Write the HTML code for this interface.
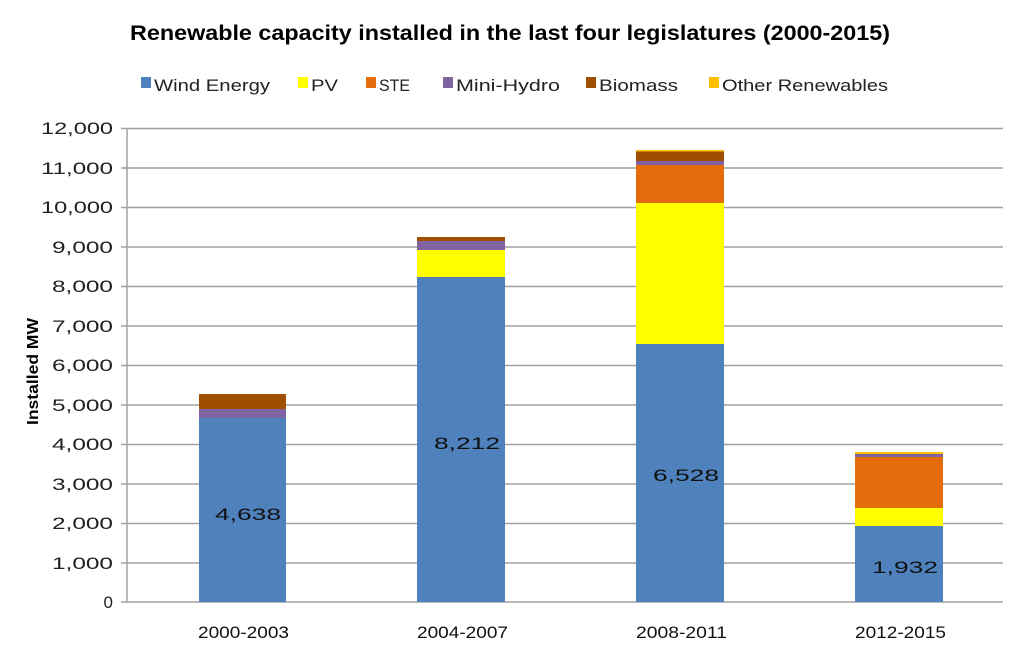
<!DOCTYPE html>
<html><head><meta charset="utf-8"><style>body{margin:0;background:#fff}svg{display:block}</style></head><body>
<svg width="1024" height="647" xmlns="http://www.w3.org/2000/svg" font-family="Liberation Sans, sans-serif">
<rect width="1024" height="647" fill="#fff"/>
<text x="130" y="40" textLength="760" lengthAdjust="spacingAndGlyphs" font-size="21" font-weight="bold" fill="#000">Renewable capacity installed in the last four legislatures (2000-2015)</text>
<g font-size="17" fill="#222">
<rect x="141" y="77" width="10" height="11" fill="#4f81bd"/><text x="154" y="91" textLength="116" lengthAdjust="spacingAndGlyphs">Wind Energy</text>
<rect x="298" y="77" width="10" height="11" fill="#ffff00"/><text x="311" y="91" textLength="27" lengthAdjust="spacingAndGlyphs">PV</text>
<rect x="366" y="77" width="10" height="11" fill="#e46c0a"/><text x="379" y="91" textLength="31" lengthAdjust="spacingAndGlyphs">STE</text>
<rect x="443" y="77" width="10" height="11" fill="#8064a2"/><text x="456" y="91" textLength="104" lengthAdjust="spacingAndGlyphs">Mini-Hydro</text>
<rect x="586" y="77" width="10" height="11" fill="#a04f00"/><text x="599" y="91" textLength="79" lengthAdjust="spacingAndGlyphs">Biomass</text>
<rect x="709" y="77" width="10" height="11" fill="#ffc000"/><text x="722" y="91" textLength="166" lengthAdjust="spacingAndGlyphs">Other Renewables</text>
</g>
<g stroke="#a0a0a0" stroke-width="1.5">
<line x1="121" y1="128.5" x2="1003" y2="128.5"/>
<line x1="121" y1="168" x2="1003" y2="168"/>
<line x1="121" y1="207.5" x2="1003" y2="207.5"/>
<line x1="121" y1="247" x2="1003" y2="247"/>
<line x1="121" y1="286.5" x2="1003" y2="286.5"/>
<line x1="121" y1="326" x2="1003" y2="326"/>
<line x1="121" y1="365.5" x2="1003" y2="365.5"/>
<line x1="121" y1="405" x2="1003" y2="405"/>
<line x1="121" y1="444.5" x2="1003" y2="444.5"/>
<line x1="121" y1="484" x2="1003" y2="484"/>
<line x1="121" y1="523.5" x2="1003" y2="523.5"/>
<line x1="121" y1="563" x2="1003" y2="563"/>
<line x1="121" y1="602" x2="1003" y2="602"/>
<line x1="127" y1="128" x2="127" y2="602"/>
</g>
<g font-size="17" fill="#222" text-anchor="end">
<text x="113" y="134" textLength="72" lengthAdjust="spacingAndGlyphs">12,000</text>
<text x="113" y="174" textLength="72" lengthAdjust="spacingAndGlyphs">11,000</text>
<text x="113" y="213" textLength="72" lengthAdjust="spacingAndGlyphs">10,000</text>
<text x="113" y="253" textLength="61" lengthAdjust="spacingAndGlyphs">9,000</text>
<text x="113" y="292" textLength="61" lengthAdjust="spacingAndGlyphs">8,000</text>
<text x="113" y="332" textLength="61" lengthAdjust="spacingAndGlyphs">7,000</text>
<text x="113" y="371" textLength="61" lengthAdjust="spacingAndGlyphs">6,000</text>
<text x="113" y="411" textLength="61" lengthAdjust="spacingAndGlyphs">5,000</text>
<text x="113" y="450" textLength="61" lengthAdjust="spacingAndGlyphs">4,000</text>
<text x="113" y="490" textLength="61" lengthAdjust="spacingAndGlyphs">3,000</text>
<text x="113" y="529" textLength="61" lengthAdjust="spacingAndGlyphs">2,000</text>
<text x="113" y="569" textLength="61" lengthAdjust="spacingAndGlyphs">1,000</text>
<text x="113" y="608">0</text>
</g>
<text transform="translate(38,425) rotate(-90)" font-size="16" font-weight="bold" fill="#000" textLength="107" lengthAdjust="spacingAndGlyphs">Installed MW</text>
<rect x="199" y="418" width="87" height="184" fill="#4f81bd"/>
<rect x="199" y="409" width="87" height="9" fill="#8064a2"/>
<rect x="199" y="394" width="87" height="15" fill="#a04f00"/>
<rect x="417" y="277" width="88" height="325" fill="#4f81bd"/>
<rect x="417" y="250" width="88" height="27" fill="#ffff00"/>
<rect x="417" y="241" width="88" height="9" fill="#8064a2"/>
<rect x="417" y="237" width="88" height="4" fill="#a04f00"/>
<rect x="636" y="344" width="88" height="258" fill="#4f81bd"/>
<rect x="636" y="203" width="88" height="141" fill="#ffff00"/>
<rect x="636" y="165" width="88" height="38" fill="#e46c0a"/>
<rect x="636" y="161" width="88" height="4" fill="#8064a2"/>
<rect x="636" y="151" width="88" height="10" fill="#a04f00"/>
<rect x="636" y="150" width="88" height="1.5" fill="#ffc000"/>
<rect x="855" y="526" width="88" height="76" fill="#4f81bd"/>
<rect x="855" y="508" width="88" height="18" fill="#ffff00"/>
<rect x="855" y="457" width="88" height="51" fill="#e46c0a"/>
<rect x="855" y="454" width="88" height="3" fill="#8064a2"/>
<rect x="855" y="452" width="88" height="2" fill="#ffc000"/>
<g font-size="17" fill="#111">
<text x="215" y="520" textLength="66" lengthAdjust="spacingAndGlyphs">4,638</text>
<text x="434" y="449" textLength="66" lengthAdjust="spacingAndGlyphs">8,212</text>
<text x="653" y="481" textLength="66" lengthAdjust="spacingAndGlyphs">6,528</text>
<text x="872" y="573" textLength="66" lengthAdjust="spacingAndGlyphs">1,932</text>
<text x="198" y="638" textLength="91" lengthAdjust="spacingAndGlyphs">2000-2003</text>
<text x="417" y="638" textLength="91" lengthAdjust="spacingAndGlyphs">2004-2007</text>
<text x="636" y="638" textLength="91" lengthAdjust="spacingAndGlyphs">2008-2011</text>
<text x="855" y="638" textLength="91" lengthAdjust="spacingAndGlyphs">2012-2015</text>
</g>
</svg>
</body></html>
